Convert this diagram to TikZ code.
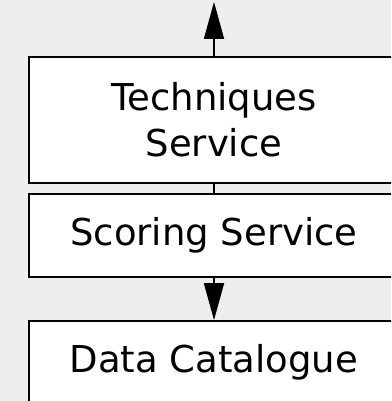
\documentclass[tikz,border=0pt]{standalone}
\usepackage{fontspec}
\setmainfont{DejaVu Sans}
\usetikzlibrary{arrows.meta}
\definecolor{bggray}{HTML}{EEEEEE}
\tikzset{
	box/.style={draw=black, fill=white, line width=1.8pt, minimum width=370pt, inner sep=0pt,
		align=center, font=\fontsize{37pt}{46pt}\selectfont},
	link/.style={line width=1.8pt},
	tip/.style={-{Triangle[length=37pt,width=20pt]}}
}
\begin{document}
\begin{tikzpicture}[x=1pt, y=1pt]
		\clip (0,0) rectangle (391,401);
		\fill[bggray] (0,0) rectangle (391,401);
		\node[box, minimum height=126pt] (tech) at (214,281) {Techniques\\Service};
		\node[box, minimum height=83pt] (score) at (214,165.5) {Scoring Service};
		\node[box, minimum height=83pt] (data) at (214,38.5) {Data Catalogue};
		\coordinate (out) at (214,399);
		\draw[link, tip] (tech.north) -- (out);
		\draw[link] (tech.south) -- (score.north);
		\draw[link, tip] (score.south) -- (data.north);
	\end{tikzpicture}
\end{document}
